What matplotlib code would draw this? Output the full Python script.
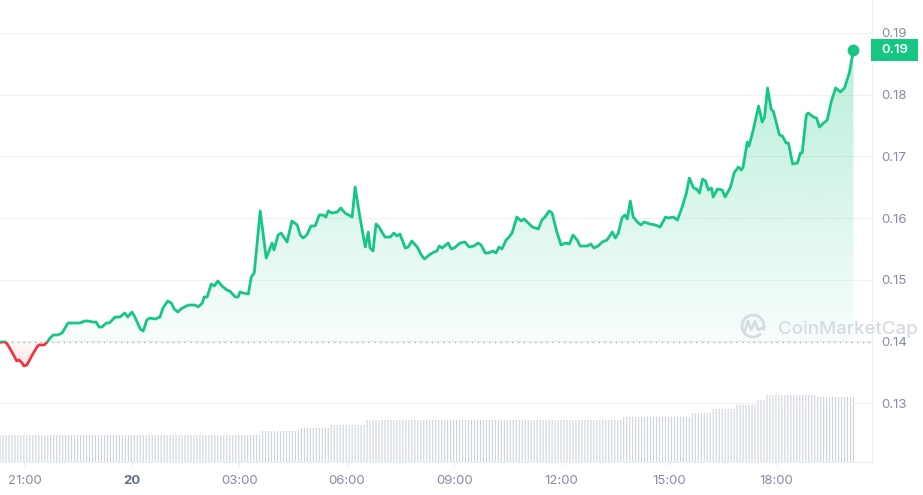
import numpy as np
import matplotlib
matplotlib.use("Agg")
import matplotlib.pyplot as plt
from matplotlib.patches import Rectangle, PathPatch, Arc
from matplotlib.path import Path
from matplotlib.transforms import blended_transform_factory
from matplotlib.colors import to_rgb

# ---------------- data ----------------
# time in minutes relative to 21:00 (previous day)
t_min = [-41, -33, -29, -21, -13, -9, -4, -1, 4, 13, 21, 24, 33, 38, 43, 48, 56, 63, 73, 80,
         93, 101, 106, 115, 120, 125, 130, 137, 142, 152, 160, 168, 173, 180, 185, 194, 199, 205, 210,
         219, 227, 232, 240, 246, 251, 257, 262, 271, 277, 286, 291, 298, 301, 306, 313, 318, 324,
         331, 339, 344, 353, 358, 361, 366, 375, 380, 385, 395, 405, 415, 418, 425, 430, 440, 448,
         457, 462, 467, 473, 480, 487, 494, 500, 505, 509, 515, 524, 530, 537, 549, 554, 562, 571,
         576, 579, 584, 589, 594, 604, 613, 619, 624, 629, 638, 643, 649, 658, 665, 670, 678, 686,
         691, 695, 700, 710, 715, 720, 730, 738, 745, 753, 760, 765, 772, 777, 785, 790, 795, 800,
         807, 812, 817, 825, 832, 837, 844, 851, 861, 867, 872, 879, 884, 892, 899, 906, 913, 919,
         926, 931, 943, 949, 954, 961, 968, 976, 985, 990, 995, 1001, 1006, 1010, 1015, 1020, 1027,
         1033, 1038, 1048, 1057, 1065, 1074, 1079, 1087, 1094, 1102, 1109, 1114, 1121, 1126, 1131,
         1136, 1141, 1146, 1151, 1154, 1161, 1169, 1174, 1183, 1189, 1196, 1201, 1204, 1211, 1214,
         1221, 1230, 1236, 1240, 1245, 1251, 1255, 1265, 1270, 1276, 1280, 1287, 1295, 1300, 1303,
         1310, 1313, 1322, 1327, 1332, 1339, 1345, 1352, 1359, 1367, 1374, 1382, 1389]

price = [0.13985, 0.13995, 0.13958, 0.13828, 0.13682, 0.13698, 0.13650, 0.13601, 0.13617, 0.13779,
         0.13909, 0.13942, 0.13942, 0.13990, 0.14055, 0.14104, 0.14104, 0.14136, 0.14298, 0.14298,
         0.14298, 0.14331, 0.14331, 0.14314, 0.14314, 0.14233, 0.14233, 0.14298, 0.14298, 0.14395,
         0.14395, 0.14460, 0.14395, 0.14476, 0.14395, 0.14201, 0.14168, 0.14347, 0.14379,
         0.14363, 0.14395, 0.14541, 0.14655, 0.14622, 0.14525, 0.14476, 0.14525, 0.14574, 0.14590,
         0.14590, 0.14558, 0.14622, 0.14720, 0.14720, 0.14930, 0.14898, 0.14979, 0.14898, 0.14833,
         0.14817, 0.14720, 0.14720, 0.14801, 0.14784, 0.14768, 0.15044, 0.15109, 0.16114, 0.15352,
         0.15595, 0.15481, 0.15725, 0.15757, 0.15611, 0.15952,
         0.15887, 0.15725, 0.15676, 0.15725, 0.15871, 0.15871, 0.16049, 0.16049, 0.16016, 0.16114,
         0.16081, 0.16097, 0.16162, 0.16081, 0.16016, 0.16503, 0.16016, 0.15530,
         0.15773, 0.15514, 0.15465, 0.15903, 0.15854, 0.15692, 0.15692, 0.15757, 0.15708, 0.15741,
         0.15514, 0.15530, 0.15627, 0.15530, 0.15400, 0.15336, 0.15400, 0.15449,
         0.15465, 0.15546, 0.15514, 0.15595, 0.15498, 0.15514, 0.15595, 0.15611, 0.15530, 0.15546,
         0.15595, 0.15563, 0.15433, 0.15433, 0.15465, 0.15433, 0.15530, 0.15498,
         0.15644, 0.15692, 0.15757, 0.16016, 0.15952, 0.15985, 0.15920, 0.15854, 0.15822, 0.15968,
         0.16016, 0.16114, 0.16081, 0.15773, 0.15563, 0.15595, 0.15579, 0.15725, 0.15644,
         0.15546, 0.15546, 0.15579, 0.15514, 0.15546, 0.15611, 0.15644, 0.15773, 0.15676, 0.15757,
         0.16000, 0.16049, 0.15985, 0.16276, 0.16016, 0.15935, 0.15887,
         0.15935, 0.15903, 0.15887, 0.15854, 0.16016, 0.16000, 0.16016, 0.15968, 0.16179, 0.16405,
         0.16649, 0.16487, 0.16470, 0.16405, 0.16632, 0.16600, 0.16454, 0.16487, 0.16341, 0.16470,
         0.16454, 0.16341, 0.16503, 0.16730, 0.16827, 0.16778, 0.16827, 0.17232, 0.17167,
         0.17427, 0.17816, 0.17556, 0.17637, 0.18108, 0.17767, 0.17718, 0.17346, 0.17329, 0.17216,
         0.17216, 0.16876, 0.16892, 0.17054, 0.17054,
         0.17670, 0.17702, 0.17637, 0.17621, 0.17475, 0.17540, 0.17589, 0.17897, 0.18108, 0.18043,
         0.18108, 0.18351, 0.18723]

open_price = 0.13995
last_label = "0.19"

# rolling volume bars: run-length encoded levels (arbitrary units), one bar every 5 min
vol_levels = [2.7, 3.1, 3.4, 3.7, 4.2, 4.5, 4.9, 5.3, 5.7, 6.2, 6.7, 6.5]
vol_counts = [88, 13, 10, 12, 86, 23, 7, 8, 7, 3, 17, 13]
vol_start = -41
vol_step = 5

xtick_pos = [0, 180, 360, 540, 720, 900, 1080, 1260]
xtick_labels = ["21:00", "20", "03:00", "06:00", "09:00", "12:00", "15:00", "18:00"]
ytick_vals = [0.13, 0.14, 0.15, 0.16, 0.17, 0.18, 0.19]

# ---------------- style ----------------
GREEN = "#16c784"
RED = "#ea3943"
LABEL = "#858ca2"
GRID = "#eff1f5"
FONT = ["Inter", "DejaVu Sans"]

W, H = 923, 495
fig = plt.figure(figsize=(W / 100, H / 100), dpi=100)
rect = [0, 33 / H, 872 / W, 462 / H]

ax_vol = fig.add_axes(rect)
ax = fig.add_axes(rect)
ax.patch.set_alpha(0)

xlim = (-41, 1420)
ylim = (0.12045, 0.19534)

# volume
vh = np.repeat(vol_levels, vol_counts)
vt = vol_start + vol_step * np.arange(len(vh))
ax_vol.vlines(vt, 0, vh, colors="#cdd3de", lw=0.8, antialiased=True, snap=False)
ax_vol.set_xlim(xlim)
ax_vol.set_ylim(0, 46.2)
ax_vol.axis("off")

xs = np.array(t_min, dtype=float)
ps = np.array(price)

# gradient fills
g = to_rgb(GREEN)
r = to_rgb(RED)
n = 256
frac = np.linspace(0, 1, n)
img_g = np.zeros((n, 1, 4))
img_g[..., :3] = g
img_g[..., 3] = (0.03 + 0.27 * frac)[:, None]
verts = [(xs[0], open_price)] + list(zip(xs, ps)) + [(xs[-1], open_price), (xs[0], open_price)]
clip_poly = PathPatch(Path(verts, closed=True), transform=ax.transData, fc="none", ec="none")
ax.add_patch(clip_poly)
im_g = ax.imshow(img_g, extent=(xs[0], xs[-1], open_price, ps.max()), origin="lower",
                 aspect="auto", interpolation="bilinear", zorder=1)
im_g.set_clip_path(clip_poly)

img_r = np.zeros((n, 1, 4))
img_r[..., :3] = r
img_r[..., 3] = (0.14 * (1 - frac) + 0.02)[:, None]
im_r = ax.imshow(img_r, extent=(xs[0], xs[-1], ps.min(), open_price), origin="lower",
                 aspect="auto", interpolation="bilinear", zorder=1)
im_r.set_clip_path(clip_poly)

# baseline
ax.axhline(open_price, color="#9aa1b0", lw=0.9, linestyle=(0, (1, 3.6)), zorder=2)

# price line coloured above/below baseline
lg, = ax.plot(xs, ps, color=GREEN, lw=2.0, zorder=3, solid_joinstyle="round")
lr, = ax.plot(xs, ps, color=RED, lw=2.0, zorder=3, solid_joinstyle="round")
above = Rectangle((xlim[0], open_price), xlim[1] - xlim[0], 1, transform=ax.transData)
below = Rectangle((xlim[0], open_price - 1), xlim[1] - xlim[0], 1, transform=ax.transData)
lg.set_clip_path(above)
lr.set_clip_path(below)
ax.plot(xs[-1], ps[-1], "o", ms=7.5, color=GREEN, zorder=4)

ax.set_xlim(xlim)
ax.set_ylim(ylim)

# axes styling
for s in ["top", "left"]:
    ax.spines[s].set_visible(False)
ax.spines["right"].set_color("#eceff3")
ax.spines["bottom"].set_color("#eceff3")
ax.spines["right"].set_linewidth(0.8)
ax.spines["bottom"].set_linewidth(0.8)

ax.yaxis.tick_right()
ax.set_yticks(ytick_vals, [f"{v:.2f}" for v in ytick_vals])
ax.tick_params(axis="y", length=0, pad=7, labelsize=9.5, labelcolor=LABEL)
ax.yaxis.grid(True, color=GRID, lw=0.8)
ax.set_axisbelow(True)

ax.set_xticks(xtick_pos, xtick_labels)
ax.tick_params(axis="x", length=2.5, width=0.8, color="#e3e6ec", pad=7, labelsize=9.5,
               labelcolor=LABEL)
for lab in ax.get_yticklabels() + ax.get_xticklabels():
    lab.set_fontfamily(FONT)
ax.get_xticklabels()[1].set_fontweight("bold")
ax.get_xticklabels()[1].set_color("#616e85")

# last-price tag
bt = blended_transform_factory(ax.transAxes, ax.transData)
tag_h = 0.00357
ax.add_patch(Rectangle((1 - 1 / 872, ps[-1] - tag_h / 2), 47 / 872, tag_h, transform=bt,
                       facecolor=GREEN, edgecolor="none", clip_on=False, zorder=5))
ax.text(1 + 22.5 / 872, ps[-1], last_label, transform=bt, ha="center", va="center",
        color="white", fontsize=9.5, fontweight="semibold", family=FONT, zorder=6, clip_on=False)

# watermark
wm = "#d6dbe3"
fig.text(778 / W, 1 - 329 / H, "CoinMarketCap", ha="left", va="center", fontsize=13.5,
         color=wm, family=FONT, fontweight="medium")
cx, cy, rad = 753, 326, 11
fig.add_artist(Arc((cx / W, 1 - cy / H), 2 * rad / W, 2 * rad / H, theta1=-40, theta2=300,
                   transform=fig.transFigure, ec=wm, lw=2.0))
mpts = [(745, 331), (748, 321), (751, 330), (755, 321), (758, 330), (762, 328)]
mverts = [(x / W, 1 - y / H) for x, y in mpts]
fig.add_artist(PathPatch(Path(mverts), transform=fig.transFigure, fill=False, ec=wm, lw=1.8,
                         joinstyle="round", capstyle="round"))

fig.savefig("out.png", dpi=100)
